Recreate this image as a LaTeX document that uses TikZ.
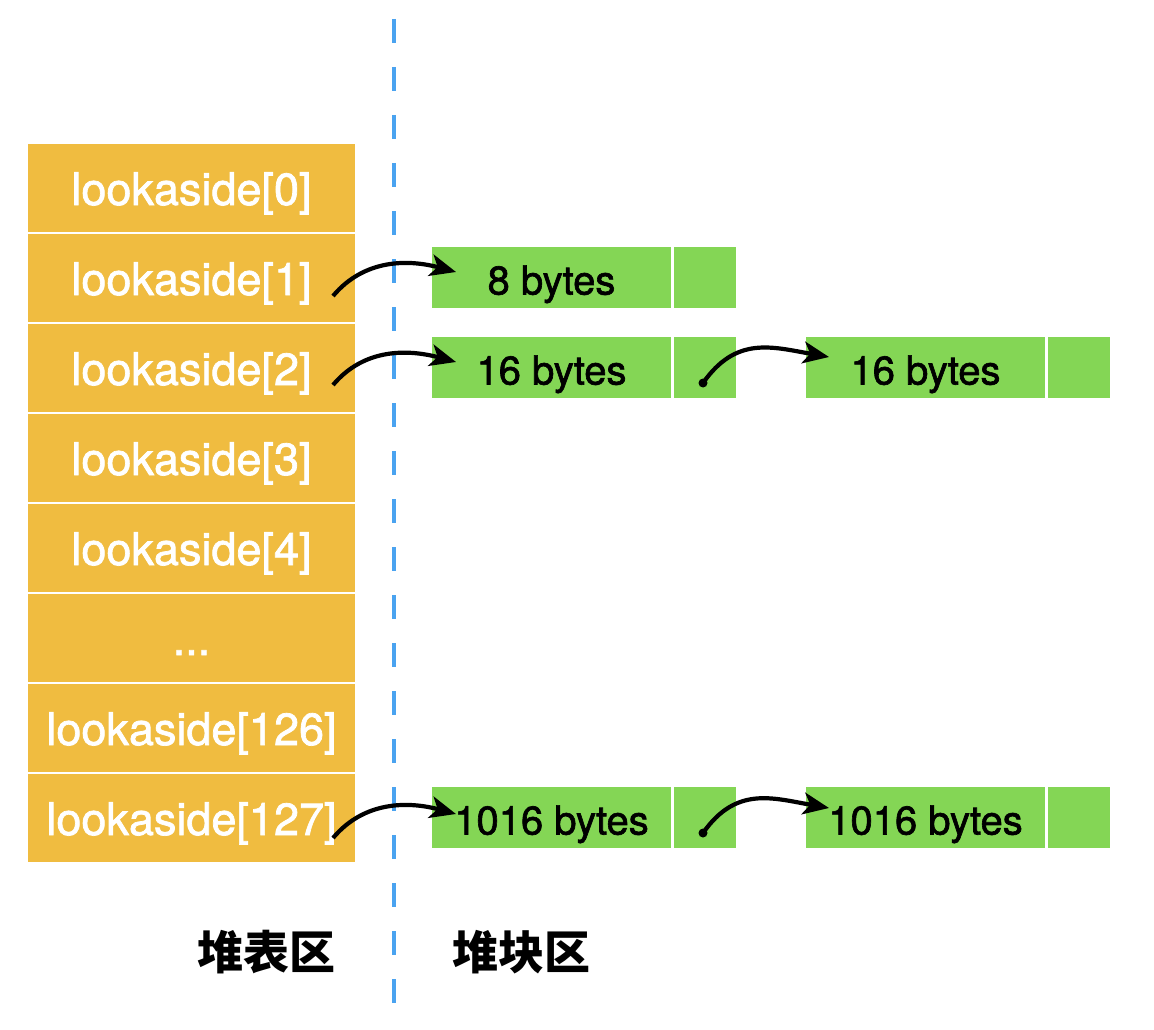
\documentclass[tikz,border=0pt]{standalone}
\usepackage{fontspec}
\setmainfont{TeX Gyre Heros}
\newfontfamily\heavy{TeX Gyre Heros}[FakeBold=1.6]
\newfontfamily\cjk{Noto Sans CJK SC}
\usetikzlibrary{arrows.meta}
\definecolor{lkorange}{HTML}{F0BC40}
\definecolor{blkgreen}{HTML}{84D655}
\definecolor{sepblue}{HTML}{4AA3F0}
\begin{document}
\begin{tikzpicture}[x=1pt,y=1pt,
  lk/.style={fill=lkorange,draw=none,minimum width=327pt,minimum height=88pt,inner sep=0pt,
    text=white,font=\heavy\fontsize{45}{54}\selectfont,text height=34pt,text depth=0pt},
  blk/.style={fill=blkgreen,draw=none,minimum width=239pt,minimum height=61pt,inner sep=0pt,
    text=black,font=\heavy\fontsize{40}{48}\selectfont,text height=34pt,text depth=0pt},
  nxt/.style={fill=blkgreen,draw=none,minimum width=62pt,minimum height=61pt,inner sep=0pt},
  link/.style={line width=4.2pt,-{Stealth[length=26pt,width=22pt,inset=7pt]}},
  lbl/.style={font=\cjk\bfseries\fontsize{46}{52}\selectfont,inner sep=0pt}]
\useasboundingbox (0,0) rectangle (1154,-1030);
% separator
\coordinate (sepT) at (394,-19);
\coordinate (sepB) at (394,-1003);
\draw[sepblue,line width=4pt,dash pattern=on 24pt off 24pt] (sepT) -- (sepB);
% heap table
\node[lk] (L0) at (191.5,-188) {lookaside[0]};
\node[lk] (L1) at (191.5,-278) {lookaside[1]};
\node[lk] (L2) at (191.5,-368) {lookaside[2]};
\node[lk] (L3) at (191.5,-458) {lookaside[3]};
\node[lk] (L4) at (191.5,-548) {lookaside[4]};
\node[lk] (L5) at (191.5,-638) {...};
\node[lk] (L6) at (191.5,-728) {lookaside[126]};
\node[lk] (L7) at (191.5,-818) {lookaside[127]};
% blocks
\node[blk] (A1) at (551.5,-277.5) {8 bytes};
\node[nxt] (A1n) at (705,-277.5) {};
\node[blk] (A2) at (551.5,-367.5) {16 bytes};
\node[nxt] (A2n) at (705,-367.5) {};
\node[blk] (B2) at (925.5,-367.5) {16 bytes};
\node[nxt] (B2n) at (1079,-367.5) {};
\node[blk] (A7) at (551.5,-817.5) {1016 bytes};
\node[nxt] (A7n) at (705,-817.5) {};
\node[blk] (B7) at (925.5,-817.5) {1016 bytes};
\node[nxt] (B7n) at (1079,-817.5) {};
% link points
\coordinate (s1) at (333,-296);
\coordinate (t1) at (456,-272);
\coordinate (s2) at (333,-385);
\coordinate (t2) at (456,-362);
\coordinate (s7) at (333,-838);
\coordinate (t7) at (456,-814);
\coordinate (p2) at (703,-383);
\coordinate (q2) at (829,-357);
\coordinate (p7) at (703,-833);
\coordinate (q7) at (829,-808);
\draw[link] (s1) to[out=50,in=165] (t1);
\draw[link] (s2) to[out=50,in=165] (t2);
\draw[link] (s7) to[out=50,in=165] (t7);
\fill (p2) circle (4.5pt);
\fill (p7) circle (4.5pt);
\draw[link] (p2) to[out=55,in=170,looseness=1.15] (q2);
\draw[link] (p7) to[out=55,in=170,looseness=1.15] (q7);
% labels
\node[lbl] (heapT) at (266,-952) {堆表区};
\node[lbl] (heapB) at (521,-952) {堆块区};
\end{tikzpicture}
\end{document}
